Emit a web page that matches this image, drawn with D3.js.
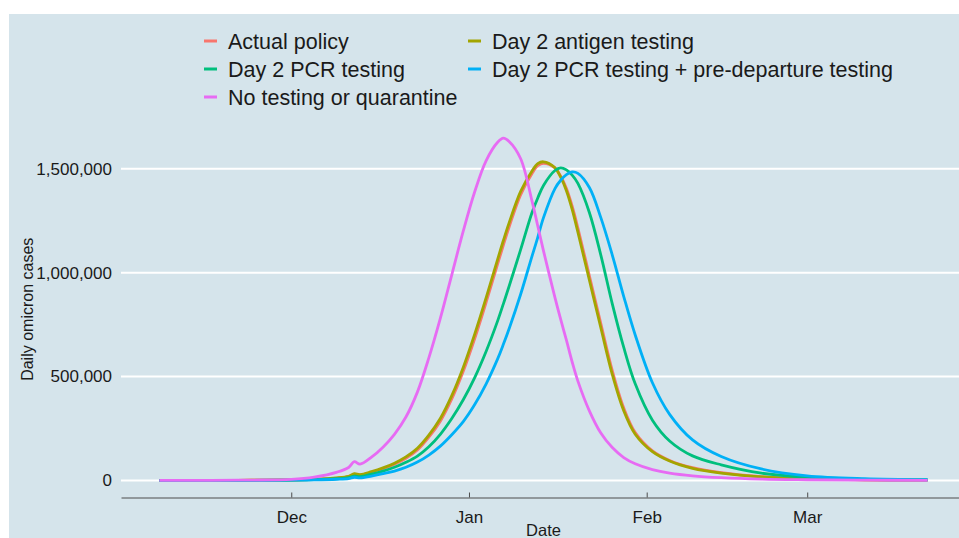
<!DOCTYPE html>
<html>
<head>
<meta charset="utf-8">
<script src="https://cdn.jsdelivr.net/npm/d3@7"></script>
<style>
  body { margin: 0; background: #fff; }
  svg { display: block; font-family: "Liberation Sans", Arial, sans-serif; }
</style>
</head>
<body>
<svg id="chart" width="959" height="538"></svg>
<script>
const dates = [
  "2021-11-08","2021-11-17","2021-11-24","2021-12-01","2021-12-05","2021-12-09","2021-12-11",
  "2021-12-12","2021-12-13","2021-12-15","2021-12-17","2021-12-19","2021-12-21","2021-12-23",
  "2021-12-25","2021-12-27","2021-12-29","2021-12-31","2022-01-02","2022-01-04","2022-01-06",
  "2022-01-07","2022-01-08","2022-01-10","2022-01-12","2022-01-13","2022-01-14","2022-01-16",
  "2022-01-17","2022-01-18","2022-01-19","2022-01-20","2022-01-22","2022-01-24","2022-01-26",
  "2022-01-28","2022-01-30","2022-02-02","2022-02-05","2022-02-09","2022-02-14","2022-02-21",
  "2022-03-01","2022-03-11","2022-03-22"
];

const actualPolicy = [
  0,130,550,1800,4600,11000,18500,29000,26000,39000,56000,78000,106000,146000,
  208000,285000,392000,525000,683000,858000,1042000,1133000,1220000,1375000,1478000,1515000,1527000,1505000,
  1465000,1405000,1320000,1215000,985000,755000,528000,348000,230000,142000,96000,61000,37000,18000,
  8500,3000,1000
];
const antigenDay2 = [
  0,150,600,2000,5000,12000,20000,32000,28000,42000,60000,83000,113000,155000,
  218000,298000,408000,544000,704000,880000,1064000,1155000,1240000,1390000,1490000,1525000,1534000,1505000,
  1460000,1395000,1305000,1195000,965000,735000,510000,335000,222000,138000,93000,58000,35000,17000,
  8000,3000,1000
];
const pcrDay2 = [
  0,100,400,1300,3200,8000,13000,21000,18000,30000,45000,63000,87000,117000,
  162000,222000,298000,388000,495000,622000,768000,850000,935000,1110000,1290000,1360000,1420000,1492000,
  1505000,1495000,1470000,1430000,1290000,1085000,850000,640000,465000,290000,190000,118000,75000,35000,
  15000,5000,2000
];
const pcrPreDeparture = [
  0,60,280,900,2200,5500,9000,15000,12500,21000,32000,45000,63000,88000,
  122000,165000,220000,283000,365000,465000,585000,655000,730000,895000,1080000,1170000,1265000,1405000,
  1445000,1472000,1485000,1478000,1410000,1265000,1085000,885000,700000,470000,318000,195000,115000,55000,
  22000,8000,3000
];
const noTesting = [
  0,400,1500,5000,16000,40000,62000,90000,78000,112000,160000,222000,305000,425000,
  590000,780000,990000,1200000,1390000,1540000,1628000,1648000,1632000,1550000,1345000,1225000,1105000,880000,
  775000,675000,570000,478000,335000,228000,158000,110000,80000,52000,35000,22000,13000,6000,
  3000,1000,300
];

const seriesNames = [
  "Actual policy", "Day 2 antigen testing", "Day 2 PCR testing",
  "Day 2 PCR testing + pre-departure testing", "No testing or quarantine"
];
const seriesValues = [actualPolicy, antigenDay2, pcrDay2, pcrPreDeparture, noTesting];
const seriesColors = ["#F8766D", "#A3A500", "#00BF7D", "#00B0F6", "#E76BF3"];

const yTicks = [0, 500000, 1000000, 1500000];
const xTickDates = ["2021-12-01", "2022-01-01", "2022-02-01", "2022-03-01"];

const parse = d3.timeParse("%Y-%m-%d");
const days = dates.map(parse);

const svg = d3.select("#chart");
const panel = {left: 121, right: 966, top: 121, bottom: 497.5};

// panel background (the figure is a screenshot, white strip top/left)
svg.append("rect")
  .attr("x", 9).attr("y", 14)
  .attr("width", 959 - 9).attr("height", 538 - 14)
  .attr("fill", "#d5e4eb");

// scales with ggplot style 5% expansion
const xExt = d3.extent(days);
const span = xExt[1] - xExt[0];
const x = d3.scaleTime()
  .domain([new Date(+xExt[0] - span * 0.05), new Date(+xExt[1] + span * 0.05)])
  .range([panel.left, panel.right]);

const yMax = d3.max(seriesValues, s => d3.max(s));
const y = d3.scaleLinear()
  .domain([-yMax * 0.05, yMax * 1.05])
  .range([panel.bottom, panel.top]);

// gridlines
svg.append("g")
  .selectAll("line")
  .data(yTicks)
  .join("line")
    .attr("x1", panel.left).attr("x2", 959)
    .attr("y1", d => y(d)).attr("y2", d => y(d))
    .attr("stroke", "#ffffff")
    .attr("stroke-width", 2);

// y axis labels
const yAxis = svg.append("g")
  .attr("transform", `translate(${panel.left},0)`)
  .call(d3.axisLeft(y).tickValues(yTicks).tickFormat(d3.format(",")).tickSize(0).tickPadding(9));
yAxis.select(".domain").remove();
yAxis.selectAll("text")
  .attr("font-size", 17)
  .attr("fill", "#1a1a1a")
  .attr("font-family", "Liberation Sans, Arial, sans-serif");

// x axis, ticks pointing into the panel
const xAxis = svg.append("g")
  .attr("transform", `translate(0,${panel.bottom})`)
  .call(d3.axisBottom(x)
    .tickValues(xTickDates.map(parse))
    .tickFormat(d3.timeFormat("%b"))
    .tickSizeInner(-5)
    .tickSizeOuter(0)
    .tickPadding(13));
xAxis.select(".domain").attr("stroke", "#4d4d4d");
xAxis.selectAll(".tick line").attr("stroke", "#4d4d4d");
xAxis.selectAll("text")
  .attr("font-size", 17)
  .attr("fill", "#1a1a1a")
  .attr("font-family", "Liberation Sans, Arial, sans-serif");

// axis titles
svg.append("text")
  .attr("x", (panel.left + panel.right) / 2).attr("y", 536)
  .attr("text-anchor", "middle")
  .attr("font-size", 16.5)
  .attr("fill", "#1a1a1a")
  .text("Date");

svg.append("text")
  .attr("transform", `translate(33,${(panel.top + panel.bottom) / 2}) rotate(-90)`)
  .attr("text-anchor", "middle")
  .attr("font-size", 16)
  .attr("fill", "#1a1a1a")
  .text("Daily omicron cases");

// lines
const line = d3.line()
  .x((d, i) => x(days[i]))
  .y(d => y(d))
  .curve(d3.curveCatmullRom.alpha(0.5));

svg.append("g")
  .selectAll("path")
  .data(seriesValues)
  .join("path")
    .attr("d", d => line(d))
    .attr("fill", "none")
    .attr("stroke", (d, i) => seriesColors[i])
    .attr("stroke-width", 2.8)
    .attr("stroke-linejoin", "round");

// legend, two columns filled by row
const legendCols = [204, 468];
const legendRows = [41, 69, 97];
const legend = svg.append("g")
  .selectAll("g")
  .data(seriesNames)
  .join("g")
    .attr("transform", (d, i) => `translate(${legendCols[i % 2]},${legendRows[Math.floor(i / 2)]})`);
legend.append("line")
  .attr("x1", 0).attr("x2", 13)
  .attr("stroke", (d, i) => seriesColors[i])
  .attr("stroke-width", 3);
legend.append("text")
  .attr("x", 24).attr("dy", "0.36em")
  .attr("font-size", 21.5)
  .attr("fill", "#1a1a1a")
  .text(d => d);
</script>
</body>
</html>
